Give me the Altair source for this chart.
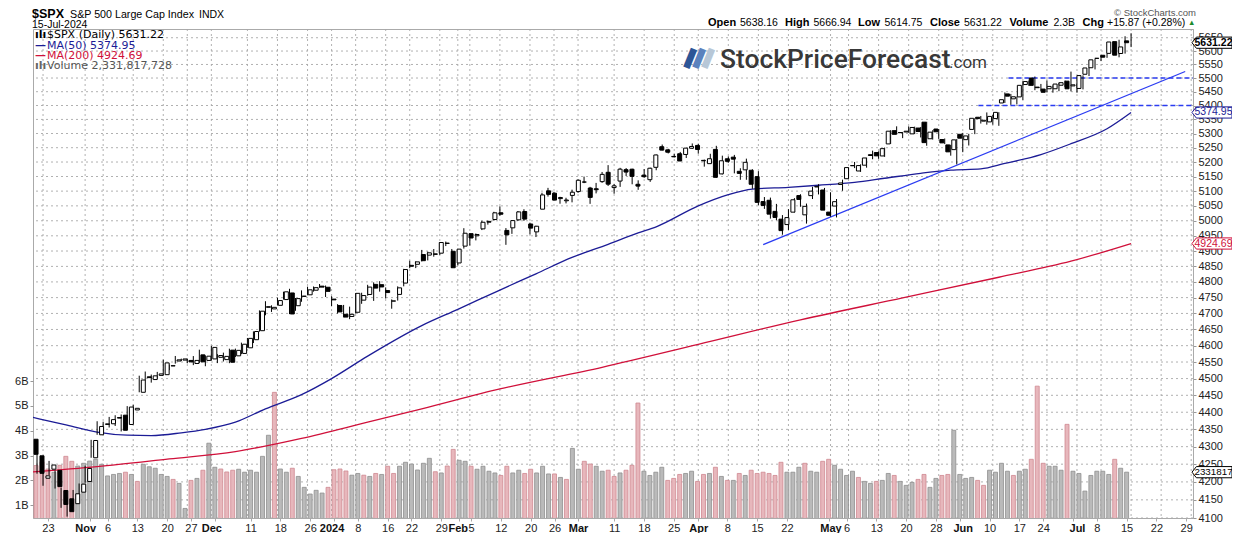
import altair as alt
import pandas as pd

# ---------------- data ----------------
holidays = ["2023-11-23", "2023-12-25", "2024-01-01", "2024-01-15", "2024-02-19",
            "2024-03-29", "2024-05-27", "2024-06-19", "2024-07-04"]

opens = [
    4321.36, 4273.85, 4210.40, 4235.79, 4232.42, 4175.99, 4152.93, 4139.39, 4171.33,
    4201.27, 4268.26, 4334.23, 4364.27, 4366.21, 4384.37, 4391.41, 4364.15, 4406.66, 4458.97, 4505.30, 4497.08, 4509.55, 4511.70, 4538.77, 4553.04, 4555.84, 4554.86, 4545.55, 4571.84, 4554.87,
    4559.43, 4564.37, 4557.25, 4586.23, 4568.84, 4576.20, 4593.39, 4618.30, 4646.20, 4721.04, 4714.23, 4725.58, 4743.72, 4764.73, 4724.29, 4753.92, 4758.86, 4773.45, 4786.44, 4782.88,
    4745.20, 4725.07, 4697.42, 4690.57, 4703.70, 4741.93, 4759.94, 4792.13, 4791.18, 4772.35, 4739.13, 4760.10, 4796.28, 4853.42, 4856.80, 4888.56, 4886.66, 4888.91, 4892.95, 4925.89, 4899.19,
    4861.11, 4916.06, 4957.19, 4950.16, 4973.05, 4995.16, 5004.17, 5026.83, 4967.94, 4976.44, 5003.14, 5031.13, 4989.32, 4963.03, 5038.83, 5100.92, 5093.00, 5074.60, 5067.20, 5085.36,
    5098.51, 5130.99, 5110.52, 5108.03, 5132.38, 5164.46, 5111.96, 5134.30, 5173.49, 5175.14, 5123.31, 5154.77, 5139.09, 5181.69, 5253.43, 5242.48, 5219.52, 5228.85, 5226.31, 5248.03,
    5257.97, 5204.29, 5194.37, 5244.05, 5158.95, 5211.37, 5217.03, 5167.88, 5172.95, 5171.51, 5149.67, 5064.59, 5068.97, 5031.52, 5005.44, 4987.33, 5028.85, 5084.86, 5019.88, 5084.65, 5114.13, 5103.78,
    5029.03, 5049.32, 5122.78, 5142.42, 5187.20, 5168.98, 5189.03, 5225.49, 5233.08, 5221.10, 5263.26, 5310.07, 5303.10, 5305.35, 5298.69, 5319.28, 5340.26, 5281.45, 5315.91, 5278.73, 5259.77, 5243.21,
    5297.15, 5278.24, 5314.48, 5357.80, 5343.81, 5341.22, 5353.00, 5409.13, 5441.93, 5424.08, 5431.11, 5476.15, 5499.99, 5466.77, 5459.58, 5460.73, 5460.71, 5473.59, 5488.48,
    5471.08, 5461.84, 5513.84, 5537.91, 5572.75, 5584.24, 5591.26, 5635.21, 5590.76, 5638.16,
]
highs = [
    4339.54, 4276.56, 4255.84, 4259.38, 4232.42, 4183.60, 4156.70, 4177.47, 4195.55,
    4245.64, 4319.72, 4373.62, 4372.21, 4386.26, 4391.20, 4393.40, 4418.03, 4421.76, 4508.67, 4521.17, 4511.99, 4520.12, 4557.11, 4542.14, 4568.43, 4560.31, 4560.52, 4568.14, 4587.64, 4569.89,
    4599.39, 4574.06, 4578.56, 4590.74, 4590.92, 4609.23, 4623.71, 4643.93, 4709.69, 4738.57, 4725.53, 4749.52, 4768.69, 4778.01, 4748.71, 4772.94, 4784.72, 4785.39, 4793.30, 4788.43,
    4754.33, 4729.29, 4726.78, 4721.49, 4764.54, 4765.47, 4790.80, 4798.50, 4802.40, 4782.34, 4744.23, 4785.79, 4842.07, 4868.41, 4866.48, 4903.68, 4898.15, 4906.69, 4929.31, 4931.09, 4906.75,
    4906.97, 4975.29, 4957.19, 4957.77, 4999.89, 5000.40, 5030.06, 5048.39, 4975.71, 5002.52, 5032.72, 5038.70, 4993.71, 4983.21, 5094.39, 5111.06, 5097.66, 5080.69, 5077.37, 5104.99,
    5140.33, 5149.67, 5114.54, 5127.97, 5165.62, 5189.26, 5124.66, 5179.87, 5179.14, 5176.85, 5136.86, 5175.60, 5180.31, 5226.19, 5261.10, 5246.09, 5229.09, 5235.16, 5249.26, 5264.85,
    5263.95, 5208.34, 5228.75, 5256.59, 5222.18, 5219.57, 5224.81, 5178.43, 5211.78, 5175.03, 5168.43, 5079.84, 5077.96, 5056.66, 5019.02, 5038.84, 5076.12, 5089.48, 5057.75, 5114.62, 5123.49, 5110.83,
    5096.12, 5073.21, 5139.12, 5181.00, 5200.23, 5191.95, 5215.30, 5239.66, 5237.26, 5250.37, 5311.76, 5325.49, 5305.45, 5325.32, 5324.32, 5323.18, 5341.88, 5311.65, 5315.91, 5282.27, 5260.21, 5280.33,
    5302.11, 5298.80, 5354.16, 5362.35, 5375.08, 5365.79, 5375.95, 5447.25, 5441.93, 5432.39, 5488.50, 5490.38, 5505.53, 5478.31, 5490.66, 5472.88, 5483.14, 5490.81, 5523.64,
    5479.55, 5509.69, 5539.27, 5570.33, 5583.11, 5590.75, 5635.39, 5642.45, 5655.56, 5666.94,
]
lows = [
    4268.64, 4223.03, 4189.22, 4219.43, 4181.42, 4127.90, 4103.78, 4132.94, 4153.12,
    4197.74, 4268.26, 4334.23, 4347.53, 4355.41, 4359.76, 4343.94, 4353.34, 4393.82, 4458.97, 4495.31, 4487.83, 4499.66, 4510.36, 4525.51, 4545.05, 4552.80, 4546.32, 4540.51, 4547.15, 4537.24,
    4554.71, 4546.72, 4551.68, 4546.50, 4565.22, 4574.06, 4593.39, 4608.09, 4643.23, 4694.34, 4704.69, 4725.58, 4743.72, 4697.82, 4708.35, 4736.77, 4758.45, 4768.90, 4780.98, 4751.99,
    4722.67, 4699.71, 4687.53, 4682.11, 4699.82, 4730.35, 4756.20, 4739.58, 4768.98, 4747.12, 4714.82, 4740.57, 4785.87, 4844.05, 4844.37, 4865.94, 4869.34, 4881.47, 4887.40, 4916.27, 4845.15,
    4853.52, 4907.99, 4918.09, 4934.88, 4969.05, 4987.09, 5000.34, 5016.83, 4920.31, 4956.45, 4999.44, 4999.52, 4955.02, 4946.00, 5038.83, 5081.46, 5068.91, 5057.29, 5058.35, 5061.89,
    5094.16, 5127.18, 5056.82, 5092.22, 5128.21, 5117.50, 5091.14, 5114.48, 5151.88, 5123.30, 5104.35, 5145.47, 5131.59, 5171.55, 5240.66, 5229.87, 5216.09, 5203.42, 5213.92, 5245.82,
    5229.20, 5184.05, 5194.37, 5146.06, 5157.21, 5197.35, 5160.78, 5138.70, 5138.77, 5107.94, 5052.47, 5039.83, 5007.25, 5001.89, 4953.56, 4969.40, 5027.96, 5047.02, 4990.58, 5073.14, 5088.65, 5035.31,
    5013.45, 5011.05, 5101.22, 5142.42, 5178.96, 5165.86, 5180.41, 5209.68, 5211.16, 5217.98, 5263.26, 5296.19, 5283.59, 5302.40, 5297.87, 5286.01, 5256.93, 5278.39, 5280.89, 5262.70, 5222.10, 5191.68,
    5234.32, 5257.63, 5297.64, 5335.36, 5331.33, 5331.52, 5327.25, 5409.13, 5402.51, 5403.75, 5420.40, 5471.32, 5455.56, 5452.03, 5447.59, 5446.56, 5451.87, 5467.54, 5451.12,
    5446.53, 5458.43, 5507.42, 5531.63, 5562.51, 5574.57, 5586.44, 5576.53, 5590.44, 5614.75,
]
closes = [
    4278.00, 4224.16, 4217.04, 4247.68, 4186.77, 4137.23, 4117.37, 4166.82, 4193.80,
    4237.86, 4317.78, 4358.34, 4365.98, 4378.38, 4382.78, 4347.35, 4415.24, 4411.55, 4495.70, 4502.88, 4508.24, 4514.02, 4547.38, 4538.19, 4556.62, 4559.34, 4550.43, 4554.89, 4550.58, 4567.80,
    4594.63, 4569.78, 4567.18, 4549.34, 4585.59, 4604.37, 4622.44, 4643.70, 4707.09, 4719.55, 4719.19, 4740.56, 4768.37, 4698.35, 4746.75, 4754.63, 4774.75, 4781.58, 4783.35, 4769.83,
    4742.83, 4704.81, 4688.68, 4697.24, 4763.54, 4756.50, 4783.45, 4780.24, 4783.83, 4765.98, 4739.21, 4780.94, 4839.81, 4850.43, 4864.60, 4868.55, 4894.16, 4890.97, 4927.93, 4924.97, 4845.65,
    4906.19, 4958.61, 4942.81, 4954.23, 4995.06, 4997.91, 5026.61, 5021.84, 4953.17, 5000.62, 5029.73, 5005.57, 4975.51, 4981.80, 5087.03, 5088.80, 5069.53, 5078.18, 5069.76, 5096.27,
    5137.08, 5130.95, 5078.65, 5104.76, 5157.36, 5123.69, 5117.94, 5175.27, 5165.31, 5150.48, 5117.09, 5149.42, 5178.51, 5224.62, 5241.53, 5234.18, 5218.19, 5203.58, 5248.49, 5254.35,
    5243.77, 5205.81, 5211.49, 5147.21, 5204.34, 5202.39, 5209.91, 5160.64, 5199.06, 5123.41, 5061.82, 5051.41, 5022.21, 5011.12, 4967.23, 5010.60, 5070.55, 5071.63, 5048.42, 5099.96, 5116.17, 5035.69,
    5018.39, 5064.20, 5127.79, 5180.74, 5187.70, 5187.67, 5214.08, 5222.68, 5221.42, 5246.68, 5308.15, 5297.10, 5303.27, 5308.13, 5321.41, 5307.01, 5267.84, 5304.72, 5306.04, 5266.95, 5235.48, 5277.51,
    5283.40, 5291.34, 5354.03, 5352.96, 5346.99, 5360.79, 5375.32, 5421.03, 5433.74, 5431.60, 5473.23, 5487.03, 5473.17, 5464.62, 5447.87, 5469.30, 5477.90, 5482.87, 5460.48,
    5475.09, 5509.01, 5537.02, 5567.19, 5572.85, 5576.98, 5633.91, 5584.54, 5615.35, 5631.22,
]
volumes_b = [
    2.60, 2.75, 2.46, 2.33, 2.61, 2.97, 2.77, 2.58, 2.69,
    2.78, 2.85, 2.65, 2.18, 2.24, 2.28, 2.33, 2.24, 1.96, 2.65, 2.55, 2.49, 2.24, 2.16, 2.04, 1.88, 0.87, 2.00, 2.08, 2.41, 3.50,
    2.53, 2.46, 2.34, 2.41, 2.45, 2.33, 2.41, 2.33, 2.97, 3.82, 5.55, 2.46, 2.33, 2.49, 2.16, 1.72, 1.45, 1.60, 1.49, 1.72,
    2.43, 2.46, 2.38, 2.21, 2.28, 2.21, 2.16, 2.28, 2.24, 2.57, 2.28, 2.57, 2.73, 2.66, 2.42, 2.69, 2.89, 2.35, 2.30, 2.58, 3.25,
    2.81, 2.77, 2.57, 2.45, 2.57, 2.37, 2.30, 2.20, 2.57, 2.30, 2.41, 2.28, 2.45, 2.30, 2.57, 2.26, 2.26, 2.12, 2.04, 3.29,
    2.45, 2.77, 2.66, 2.57, 2.37, 2.41, 2.16, 2.30, 2.41, 2.61, 5.12, 2.37, 2.20, 2.33, 2.53, 2.00, 2.08, 2.24, 2.28, 2.37,
    1.96, 2.24, 2.28, 2.53, 2.16, 2.00, 2.00, 2.28, 2.20, 2.41, 2.28, 2.33, 2.28, 2.20, 2.73, 2.33, 2.33, 2.53, 2.69, 2.37, 2.33, 2.77,
    2.85, 2.61, 2.45, 2.20, 2.37, 2.12, 1.96, 1.88, 1.96, 2.00, 2.28, 2.20, 1.96, 1.80, 1.92, 2.04, 2.24, 1.72, 2.08, 2.20, 2.24, 4.02,
    2.24, 2.08, 2.12, 2.00, 1.80, 2.41, 2.33, 2.69, 2.37, 2.20, 2.37, 2.45, 2.85, 5.80, 2.69, 2.57, 2.57, 2.41, 4.26,
    2.37, 2.28, 1.57, 2.20, 2.37, 2.37, 2.24, 2.85, 2.49, 2.331817728,
]
prev_close_first = 4314.60

# moving averages (trading-day index, value)
ma50_idx = [0, 6, 11, 16, 20, 25, 29, 34, 39, 45, 50, 56, 65, 71, 78, 84, 90, 96, 101, 104,
            111, 116, 120, 126, 131, 137, 142, 148, 153, 158, 162, 168, 173, 179, 183]
ma50_val = [4386, 4362, 4342, 4333, 4332, 4340, 4350, 4371, 4410, 4452, 4500, 4568, 4662, 4713,
            4774, 4826, 4879, 4922, 4960, 4980, 5050, 5088, 5107, 5113, 5120, 5130, 5144, 5161,
            5172, 5176, 5195, 5226, 5264, 5317, 5374.95]
ma200_idx = [0, 11, 23, 34, 45, 56, 65, 78, 95, 111, 128, 145, 161, 173, 183]
ma200_val = [4228, 4243, 4265, 4286, 4324, 4371, 4410, 4469, 4534, 4604, 4680, 4749, 4815, 4867, 4924.69]

# annotation lines
trend_idx = [121.8, 192.0]
trend_val = [4921, 5524]
res_levels = [5500, 5400]
res_start = [162.6, 157.6]
x_end = 193.3

tick_dates = ["2023-10-23", "2023-11-01", "2023-11-06", "2023-11-13", "2023-11-20", "2023-11-27",
              "2023-12-01", "2023-12-11", "2023-12-18", "2023-12-26", "2024-01-02", "2024-01-08",
              "2024-01-16", "2024-01-22", "2024-01-29", "2024-02-01", "2024-02-05", "2024-02-12",
              "2024-02-20", "2024-02-26", "2024-03-01", "2024-03-11", "2024-03-18", "2024-03-25",
              "2024-04-01", "2024-04-08", "2024-04-15", "2024-04-22", "2024-05-01", "2024-05-06",
              "2024-05-13", "2024-05-20", "2024-05-28", "2024-06-03", "2024-06-10", "2024-06-17",
              "2024-06-24", "2024-07-01", "2024-07-08", "2024-07-15", "2024-07-22", "2024-07-29"]
tick_labels = ["23", "Nov", "6", "13", "20", "27", "Dec", "11", "18", "26", "2024", "8", "16", "22",
               "29", "Feb", "5", "12", "20", "26", "Mar", "11", "18", "25", "Apr", "8", "15", "22",
               "May", "6", "13", "20", "28", "Jun", "10", "17", "24", "Jul", "8", "15", "22", "29"]
bold_labels = ["Nov", "Dec", "2024", "Feb", "Mar", "Apr", "May", "Jun", "Jul"]
price_ticks = list(range(4100, 5651, 50))
vol_ticks = [1e9, 2e9, 3e9, 4e9, 5e9, 6e9]

# ---------------- frames ----------------
all_days = [d.strftime("%Y-%m-%d") for d in pd.bdate_range("2023-10-19", "2024-07-31")
            if d.strftime("%Y-%m-%d") not in holidays]
day_index = {d: k for k, d in enumerate(all_days)}
n = len(closes)
prev = [prev_close_first] + closes[:-1]
df = pd.DataFrame({
    "i": list(range(n)), "date": all_days[:n], "open": opens, "high": highs, "low": lows,
    "close": closes, "vol": [v * 1e9 for v in volumes_b],
})
df["body"] = ["white" if c >= o else "black" for o, c in zip(opens, closes)]
down = [c < p for c, p in zip(closes, prev)]
df["vfill"] = ["#e7b7bc" if d else "#bababa" for d in down]
df["vstroke"] = ["#cf8891" if d else "#8e8e8e" for d in down]

tick_idx = [day_index[d] for d in tick_dates]
day_pairs = [(t, l) for t, l in zip(tick_idx, tick_labels) if l not in bold_labels]
month_pairs = [(t, l) for t, l in zip(tick_idx, tick_labels) if l in bold_labels]

ma50 = pd.DataFrame({"i": ma50_idx, "v": ma50_val})
ma200 = pd.DataFrame({"i": ma200_idx, "v": ma200_val})
trend = pd.DataFrame({"i": trend_idx, "v": trend_val})
res = pd.DataFrame({"i": res_start, "i2": [x_end] * 2, "v": res_levels})
xgrid = pd.DataFrame({"i": tick_idx})
ygrid = pd.DataFrame({"v": price_ticks})

# ---------------- scales / axes ----------------
W, H = 1160, 489
x_scale = alt.Scale(domain=[0.33, x_end], nice=False, zero=False)
p_scale = alt.Scale(type="log", domain=[4100, 5683], nice=False, zero=False)
v_scale = alt.Scale(domain=[0.484e9, 20.2e9], nice=False, zero=False)
FONT = "Liberation Sans"
LFONT = "DejaVu Sans"
GRID = "#a9a9a9"


def expr_for(pairs):
    return " : ".join(f"datum.value == {t} ? '{l}'" for t, l in pairs) + " : ''"


x_axis_days = alt.Axis(
    orient="bottom", values=tick_idx, labelExpr=expr_for(day_pairs), title=None,
    grid=False, tickSize=3, tickColor="#aaaaaa", domainColor="#aaaaaa",
    labelFont=FONT, labelFontSize=11, labelColor="#222222", labelPadding=1,
    labelOverlap=False, labelFlush=False,
)
x_axis_months = alt.Axis(
    orient="bottom", values=[t for t, _ in month_pairs], labelExpr=expr_for(month_pairs), title=None,
    grid=False, ticks=False, domain=False, labelFontWeight="bold",
    labelFont=FONT, labelFontSize=11, labelColor="#111111", labelPadding=4,
    labelOverlap=False, labelFlush=False,
)
Xd = alt.X("i:Q", scale=x_scale, axis=x_axis_days)
Xm = alt.X("i:Q", scale=x_scale, axis=x_axis_months)
Xn = alt.X("i:Q", scale=x_scale, axis=None)

p_axis = alt.Axis(orient="right", values=price_ticks, format="d", title=None, grid=False,
                  tickSize=3, tickColor="#999999", domainColor="#aaaaaa",
                  labelFont=FONT, labelFontSize=11, labelColor="#222222", labelPadding=2,
                  labelOverlap=False, labelFlush=False)
v_axis = alt.Axis(orient="left", values=vol_ticks, labelExpr="(datum.value/1e9) + 'B'", title=None,
                  grid=False, tickSize=3, tickColor="#999999", domain=False,
                  labelFont=FONT, labelFontSize=11, labelColor="#222222", labelPadding=2)

TAG = "M-1,0L-0.78,-0.28L1,-0.28L1,0.28L-0.78,0.28Z"
TAG_X = W + 19
TAG_SIZE = 1600
one = pd.DataFrame({"k": [0]})
Yp = lambda f: alt.Y(f, scale=p_scale, axis=None)

# ---------------- grid ----------------
vgrid = alt.Chart(xgrid).mark_rule(color=GRID, strokeWidth=1, strokeDash=[2, 3], opacity=0.9).encode(x=Xn)
hgrid = alt.Chart(ygrid).mark_rule(color=GRID, strokeWidth=1, strokeDash=[2, 3], opacity=0.9,
                                   clip=True).encode(y=Yp("v:Q"))

# ---------------- volume ----------------
vol_bars = alt.Chart(df).mark_bar(size=4, strokeWidth=0.8, clip=True, orient="vertical").encode(
    x=Xd, y=alt.Y("vol:Q", scale=v_scale, axis=v_axis), y2=alt.datum(0),
    fill=alt.Fill("vfill:N", scale=None), stroke=alt.Stroke("vstroke:N", scale=None),
)
vol_tag_df = pd.DataFrame({"v": [volumes_b[-1] * 1e9], "t": [str(int(volumes_b[-1] * 1e9) // 1000)]})
vol_tag = alt.Chart(vol_tag_df).mark_point(shape=TAG, size=TAG_SIZE, filled=True, fill="white",
                                           stroke="black", strokeWidth=1, opacity=1).encode(
    x=alt.value(TAG_X), y=alt.Y("v:Q", scale=v_scale, axis=None))
vol_tag_t = alt.Chart(vol_tag_df).mark_text(font=FONT, fontSize=9.8, color="black", align="center",
                                            baseline="middle", dx=1.5).encode(
    x=alt.value(TAG_X), y=alt.Y("v:Q", scale=v_scale, axis=None), text="t:N")

# ---------------- price ----------------
ma200_line = alt.Chart(ma200).mark_line(color="#d0103a", strokeWidth=1.3, clip=True, interpolate="monotone").encode(
    x=Xn, y=alt.Y("v:Q", scale=p_scale, axis=p_axis))
ma50_line = alt.Chart(ma50).mark_line(color="#1c1c96", strokeWidth=1.3, clip=True, interpolate="monotone").encode(
    x=Xn, y=Yp("v:Q"))
trend_line = alt.Chart(trend).mark_line(color="#2b3cf2", strokeWidth=1.3, clip=True).encode(x=Xn, y=Yp("v:Q"))
res_lines = alt.Chart(res).mark_rule(color="#2b3cf2", strokeWidth=1.3, strokeDash=[5, 3], clip=True).encode(
    x=Xn, x2="i2:Q", y=Yp("v:Q"))
wicks = alt.Chart(df).mark_rule(color="black", strokeWidth=1, clip=True).encode(
    x=Xm, y=Yp("low:Q"), y2="high:Q")
bodies = alt.Chart(df).mark_bar(size=4, stroke="black", strokeWidth=1, clip=True).encode(
    x=Xn, y=Yp("open:Q"), y2="close:Q", fill=alt.Fill("body:N", scale=None))

tags_df = pd.DataFrame({
    "v": [closes[-1], ma50_val[-1], ma200_val[-1]],
    "t": [f"{closes[-1]:.2f}", f"{ma50_val[-1]:.2f}", f"{ma200_val[-1]:.2f}"],
    "c": ["black", "#1c1c96", "#d0103a"],
    "b": [True, False, False],
})
tag_shapes = alt.Chart(tags_df).mark_point(shape=TAG, size=TAG_SIZE, filled=True, fill="white",
                                           strokeWidth=1, opacity=1).encode(
    x=alt.value(TAG_X), y=Yp("v:Q"), stroke=alt.Stroke("c:N", scale=None))
tag_text_b = alt.Chart(tags_df).transform_filter("datum.b").mark_text(
    font=FONT, fontSize=10.5, fontWeight="bold", align="center", baseline="middle", dx=1.5).encode(
    x=alt.value(TAG_X), y=Yp("v:Q"), text="t:N", color=alt.Color("c:N", scale=None))
tag_text_n = alt.Chart(tags_df).transform_filter("!datum.b").mark_text(
    font=FONT, fontSize=10.5, align="center", baseline="middle", dx=1.5).encode(
    x=alt.value(TAG_X), y=Yp("v:Q"), text="t:N", color=alt.Color("c:N", scale=None))


# ---------------- decorations (text) ----------------
def txt(s, x, y, size=11, color="#000000", weight="normal", font=FONT, align="left", angle=0):
    kw = dict(text=s, font=font, fontSize=size, color=color, fontWeight=weight, align=align,
              baseline="alphabetic")
    if angle:
        kw["angle"] = angle
    return alt.Chart(one).mark_text(**kw).encode(x=alt.value(x), y=alt.value(y))


L0, T0 = 33, 29  # absolute top-left of plot
hy = 26 - T0
deco = [
    txt("$SPX", -1, 18 - T0, size=12.5, weight="bold"),
    txt("S&P 500 Large Cap Index", 37, 18 - T0, size=10.7),
    txt("INDX", 166, 18 - T0, size=10.5),
    txt("15-Jul-2024", -1, 27.5 - T0, size=10.5),
    txt("\u00a9 StockCharts.com", 1163, 16 - T0, size=9.5, color="#555555", align="right"),
    txt("Open", 708 - L0, hy, weight="bold"), txt(f"{opens[-1]:.2f}", 740 - L0, hy, size=10.5),
    txt("High", 785 - L0, hy, weight="bold"), txt(f"{highs[-1]:.2f}", 813.5 - L0, hy, size=10.5),
    txt("Low", 858 - L0, hy, weight="bold"), txt(f"{lows[-1]:.2f}", 884.5 - L0, hy, size=10.5),
    txt("Close", 930 - L0, hy, weight="bold"), txt(f"{closes[-1]:.2f}", 964 - L0, hy, size=10.5),
    txt("Volume", 1009.5 - L0, hy, weight="bold"), txt(f"{volumes_b[-1]:.1f}B", 1053.5 - L0, hy, size=10.5),
    txt("Chg", 1082.5 - L0, hy, weight="bold"),
    txt(f"+{closes[-1] - closes[-2]:.2f} (+{(closes[-1] / closes[-2] - 1) * 100:.2f}%)", 1107 - L0, hy, size=10.5),
    txt("\u25b2", 1188 - L0, hy - 1, size=7.5, color="#1c8a2c"),
    # legend
    txt("\u0131l\u0131", 2, 38.3 - T0, size=11, weight="bold", font=LFONT),
    txt("$SPX (Daily) " + f"{closes[-1]:.2f}", 14, 38.3 - T0, size=11, font=LFONT),
    txt("\u2014", 2, 48.5 - T0, size=11, weight="bold", color="#1c1c96", font=LFONT),
    txt("MA(50) " + f"{ma50_val[-1]:.2f}", 14, 48.5 - T0, size=11, color="#1c1c96", font=LFONT),
    txt("\u2014", 2, 58.8 - T0, size=11, weight="bold", color="#d0103a", font=LFONT),
    txt("MA(200) " + f"{ma200_val[-1]:.2f}", 14, 58.8 - T0, size=11, color="#d0103a", font=LFONT),
    txt("\u0131l\u0131", 2, 69 - T0, size=11, weight="bold", color="#666666", font=LFONT),
    txt("Volume " + f"{round(volumes_b[-1] * 1e9):,}", 14, 69 - T0, size=11, color="#555555", font=LFONT),
    # watermark logo
    txt("\u258c", 658, 65 - T0, size=17, color="#2d5596", font=LFONT, align="center", angle=22),
    txt("\u258c", 667, 65 - T0, size=17, color="#5b82bd", font=LFONT, align="center", angle=22),
    txt("\u258c", 676, 65 - T0, size=17, color="#b7c7d7", font=LFONT, align="center", angle=22),
    txt("StockPriceForecast", 687, 68 - T0, size=26.4, color="#383838", weight=500, font="Roboto"),
    txt(".com", 916, 68 - T0, size=17, color="#383838", font="Roboto"),
]

layers = [vgrid, hgrid, vol_bars, vol_tag, vol_tag_t, ma200_line, ma50_line, trend_line, res_lines,
          wicks, bodies, tag_shapes, tag_text_b, tag_text_n] + deco

chart = alt.layer(*layers).resolve_scale(x="independent", y="independent").properties(
    width=W, height=H,
    autosize=alt.AutoSizeParams(type="none"),
    padding={"left": 25, "top": 21, "right": 39, "bottom": 15},
    background="white",
).configure_view(stroke="#aaaaaa", strokeWidth=1)

chart.save("out.html", embed_options={"renderer": "svg", "actions": False})
